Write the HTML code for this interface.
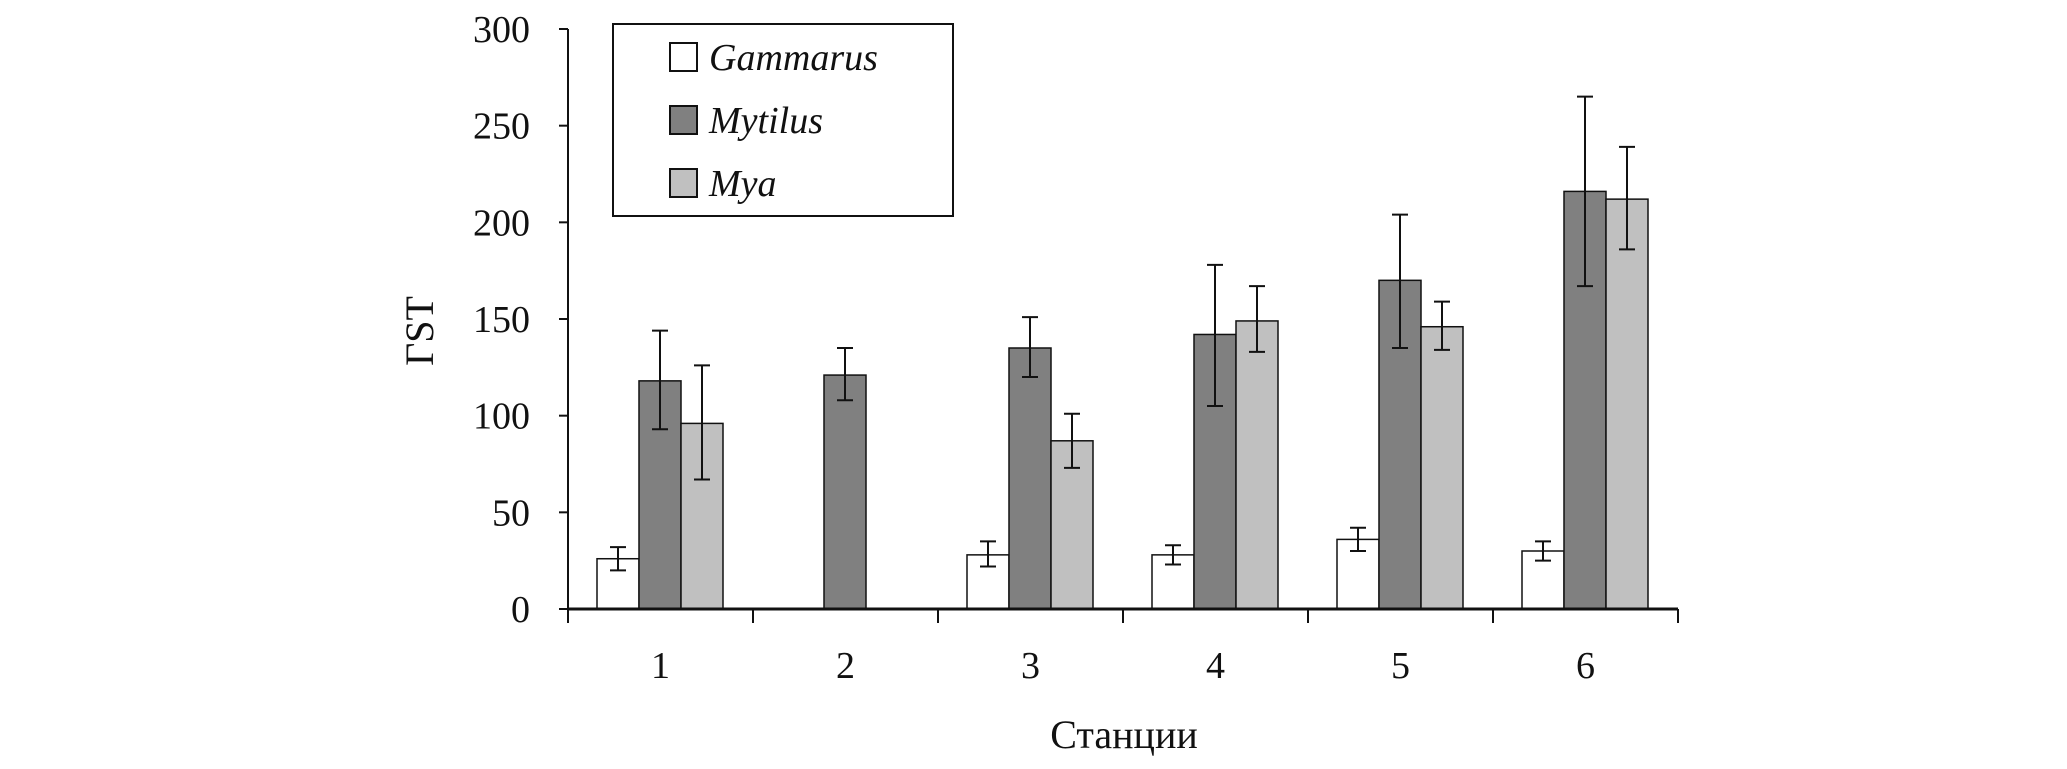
<!DOCTYPE html>
<html><head><meta charset="utf-8"><style>
body{margin:0;background:#fff;}
svg text{font-family:"Liberation Serif",serif;fill:#111;}
</style></head><body>
<svg id="chart" width="2067" height="764" xmlns="http://www.w3.org/2000/svg">
<g id="plot"></g>
<g>
<rect x="613" y="24" width="340" height="192" fill="#fff" stroke="#111" stroke-width="2"/>
<g><rect x="670" y="43" width="27" height="28" fill="#fff" stroke="#111" stroke-width="2"/><text x="709" y="70" font-size="38" font-style="italic">Gammarus</text></g>
<g><rect x="670" y="106" width="27" height="28" fill="#808080" stroke="#111" stroke-width="2"/><text x="709" y="133" font-size="38" font-style="italic">Mytilus</text></g>
<g><rect x="670" y="169" width="27" height="28" fill="#c0c0c0" stroke="#111" stroke-width="2"/><text x="709" y="196" font-size="38" font-style="italic">Mya</text></g>
</g>
<text transform="translate(433,331) rotate(-90)" text-anchor="middle" font-size="40">ГST</text>
<text x="1124" y="748" text-anchor="middle" font-size="40">Станции</text>
</svg>
<script>
const categories=["1","2","3","4","5","6"];
const gammarus=[26,0,28,28,36,30];
const gammarusLo=[20,null,22,23,30,25];
const gammarusHi=[32,null,35,33,42,35];
const mytilus=[118,121,135,142,170,216];
const mytilusLo=[93,108,120,105,135,167];
const mytilusHi=[144,135,151,178,204,265];
const mya=[96,0,87,149,146,212];
const myaLo=[67,null,73,133,134,186];
const myaHi=[126,null,101,167,159,239];
const yTicks=[0,50,100,150,200,250,300];

const NS="http://www.w3.org/2000/svg";
const plot=document.getElementById('plot');
const x0=568,x1=1678,y0=609,yTop=29,ymax=300;
const gw=(x1-x0)/categories.length;
const y=v=>y0-(v/ymax)*(y0-yTop);
function mk(tag,attrs){const e=document.createElementNS(NS,tag);for(const k in attrs)e.setAttribute(k,attrs[k]);plot.appendChild(e);return e;}
const series=[
 {name:'gammarus',v:gammarus,lo:gammarusLo,hi:gammarusHi,fill:'#fff',off:29},
 {name:'mytilus',v:mytilus,lo:mytilusLo,hi:mytilusHi,fill:'#808080',off:71},
 {name:'mya',v:mya,lo:myaLo,hi:myaHi,fill:'#c0c0c0',off:113}];
const bw=42;
series.forEach(s=>{
 s.v.forEach((v,i)=>{
  if(!v)return;
  const bx=x0+i*gw+s.off;
  const r=mk('rect',{x:bx,y:y(v),width:bw,height:y0-y(v),fill:s.fill,stroke:'#111','stroke-width':1.5});
  
  
  if(s.lo[i]!=null){
   const cx=bx+bw/2;
   const g=mk('path',{d:`M${cx},${y(s.lo[i])}V${y(s.hi[i])}M${cx-8},${y(s.lo[i])}H${cx+8}M${cx-8},${y(s.hi[i])}H${cx+8}`,stroke:'#111','stroke-width':2,fill:'none'});
   
   
  }
 });
});
const ya=mk('line',{x1:x0,y1:yTop,x2:x0,y2:y0,stroke:'#111','stroke-width':2});


const xa=mk('line',{x1:x0,y1:y0,x2:x1,y2:y0,stroke:'#111','stroke-width':3});


yTicks.forEach(t=>{
 const l=mk('line',{x1:x0-9,y1:y(t),x2:x0,y2:y(t),stroke:'#111','stroke-width':2});
 
 
 const tx=mk('text',{x:530,y:y(t)+13,'text-anchor':'end','font-size':38});
 tx.textContent=t;
 
 
});
for(let i=0;i<=categories.length;i++){
 const l=mk('line',{x1:x0+i*gw,y1:y0,x2:x0+i*gw,y2:y0+14,stroke:'#111','stroke-width':2});
 
 
}
categories.forEach((c,i)=>{
 const tx=mk('text',{x:x0+i*gw+gw/2,y:678,'text-anchor':'middle','font-size':38});
 tx.textContent=c;
 
 
});
</script>
</body></html>
